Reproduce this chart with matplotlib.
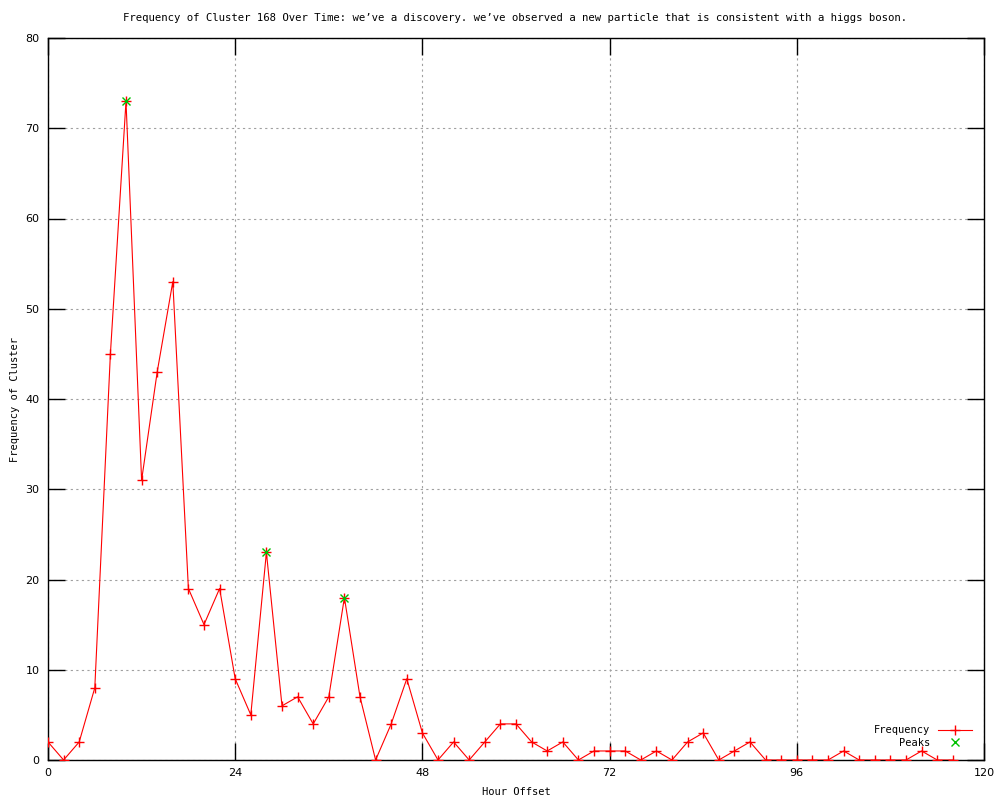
import matplotlib
matplotlib.use("Agg")
import matplotlib.pyplot as plt

# hourly frequency of cluster 168
hours = list(range(0, 118, 2))
freq = [2, 0, 2, 8, 45, 73, 31, 43, 53, 19,
        15, 19, 9, 5, 23, 6, 7, 4, 7, 18,
        7, 0, 4, 9, 3, 0, 2, 0, 2, 4,
        4, 2, 1, 2, 0, 1, 1, 1, 0, 1,
        0, 2, 3, 0, 1, 2, 0, 0, 0, 0,
        0, 1, 0, 0, 0, 0, 1, 0, 0]

peak_hours = [10, 28, 38]
peak_freq = [73, 23, 18]

xticks = [0, 24, 48, 72, 96, 120]
yticks = [0, 10, 20, 30, 40, 50, 60, 70, 80]

title = ("Frequency of Cluster 168 Over Time: we\u2019ve a discovery. "
         "we\u2019ve observed a new particle that is consistent with a higgs boson.")

fig = plt.figure(figsize=(10, 8), dpi=100)
ax = fig.add_axes([0.048, 0.05, 0.936, 0.9025])

ax.plot(hours, freq, color="red", lw=0.8, marker="+", ms=6.5, mew=1,
        label="Frequency", zorder=3)
ax.plot(peak_hours, peak_freq, ls="none", color="#00c000", marker="x",
        ms=6, mew=1, label="Peaks", zorder=4)

ax.set_xlim(0, 120)
ax.set_ylim(0, 80)
ax.set_xticks(xticks)
ax.set_yticks(yticks)
ax.tick_params(direction="in", length=12, width=1, top=True, right=True,
               labelsize=8, pad=6)
for s in ax.spines.values():
    s.set_linewidth(1)

ax.grid(True, color="#a0a0a0", ls=(0, (2, 3)), lw=0.8)
ax.set_axisbelow(True)

ax.set_xlabel("Hour Offset", fontsize=7.5, family="DejaVu Sans Mono", labelpad=6)
ax.set_ylabel("Frequency of Cluster", fontsize=7.5, family="DejaVu Sans Mono")
ax.yaxis.set_label_coords(-0.03, 0.5)
fig.text(0.515, 0.977, title, ha="center", va="center", fontsize=7.7,
         family="DejaVu Sans Mono")

ax.legend(loc="lower right", frameon=False, markerfirst=False,
          handlelength=3.2, borderaxespad=0.8, labelspacing=0.2,
          prop={"family": "DejaVu Sans Mono", "size": 7.5})

fig.savefig("out.png", dpi=100)
